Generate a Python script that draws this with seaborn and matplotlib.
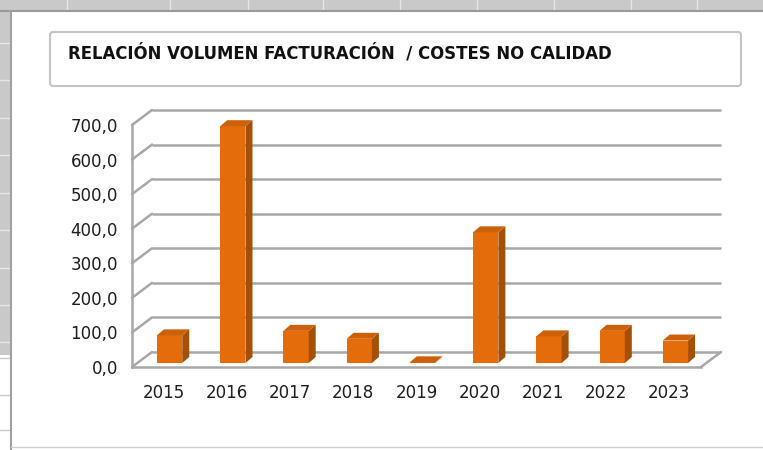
import matplotlib
matplotlib.use("Agg")
import numpy as np
import pandas as pd
import seaborn as sns
import matplotlib.pyplot as plt
from matplotlib.patches import Polygon, FancyBboxPatch, Rectangle
from matplotlib.transforms import ScaledTranslation
from matplotlib.ticker import FuncFormatter, FixedLocator

# ---- data ----
years = ["2015", "2016", "2017", "2018", "2019", "2020", "2021", "2022", "2023"]
values = [80, 685, 93, 70, 2, 378, 77, 93, 65]
y_ticks = [0, 100, 200, 300, 400, 500, 600, 700]
title = "RELACIÓN VOLUMEN FACTURACIÓN  / COSTES NO CALIDAD"

W, H = 763, 450
DPI = 100
FRONT = "#E46C0A"
SIDE = "#A64F07"
TOP = "#CD610A"
GRID = "#A8A8A8"
TXT = "#1e1e1e"

sns.set_style("white")
plt.rcParams["font.family"] = ["DejaVu Sans"]

fig = plt.figure(figsize=(W / DPI, H / DPI), dpi=DPI)
fig.patch.set_facecolor("white")

# ---- background (spreadsheet frame) in pixel coords ----
bg = fig.add_axes([0, 0, 1, 1], zorder=0)
bg.set_xlim(0, W)
bg.set_ylim(H, 0)
bg.axis("off")
bg.add_patch(Rectangle((0, 0), W, 11, facecolor="#c9c9c9", edgecolor="none"))
bg.add_patch(Rectangle((0, 0), 10, 355, facecolor="#c9c9c9", edgecolor="none"))
for x in [67, 170, 248, 323, 400, 477, 554, 631, 697]:
    bg.plot([x, x], [0, 10], color="#e6e6e6", lw=1)
for y in [43, 80, 118, 155, 193, 230, 268, 305, 342]:
    bg.plot([0, 9], [y, y], color="#e6e6e6", lw=1)
for y in [358, 395, 430]:
    bg.plot([0, 9], [y, y], color="#c9c9c9", lw=1)
bg.plot([0, W], [11, 11], color="#9a9a9a", lw=1.5)
bg.plot([10.5, 10.5], [11, H], color="#a0a0a0", lw=1.5)
bg.plot([11, W], [447, 447], color="#d0d0d0", lw=1)

# title box
bg.add_patch(FancyBboxPatch((50, 32), 691, 54,
                            boxstyle="round,pad=0,rounding_size=3",
                            facecolor="white", edgecolor="#c4c4c4", lw=1.5))
bg.text(68, 53, title, fontsize=11.9, fontweight="bold",
        color="#111111", ha="left", va="center")

# ---- main axes ----
ax = fig.add_axes([132 / W, (H - 367) / H, 569 / W, 242 / H], zorder=1)
ax.patch.set_alpha(0)

df = pd.DataFrame({"year": years, "value": values})
sns.barplot(data=df, x="year", y="value", color=FRONT, saturation=1,
            width=0.4, ax=ax, zorder=5)
ax.set_xlim(-0.5, 8.5)
ax.set_ylim(0, 700)
ax.set_xlabel("")
ax.set_ylabel("")

# pixel -> data conversion
px_x = 9 / 569.0
px_y = 700 / 242.0

# back wall offset
wall_dx, wall_dy = 20, 15
wall_off = ax.transData + ScaledTranslation(wall_dx / DPI, wall_dy / DPI, fig.dpi_scale_trans)
for v in y_ticks:
    ax.plot([-0.5, 8.5], [v, v], color=GRID, lw=1.8, transform=wall_off,
            clip_on=False, zorder=1, solid_capstyle="butt")
    ax.plot([-0.5, -0.5 + wall_dx * px_x], [v, v + wall_dy * px_y], color=GRID,
            lw=1.8, clip_on=False, zorder=1)
ax.plot([8.5, 8.5 + wall_dx * px_x], [0, wall_dy * px_y], color=GRID, lw=1.8,
        clip_on=False, zorder=1)

# 3D bars: shift front faces to mid depth, add side and top faces
bar_off = ax.transData + ScaledTranslation(6 / DPI, 4 / DPI, fig.dpi_scale_trans)
ddx, ddy = 7 * px_x, 6 * px_y
for p in list(ax.patches):
    p.set_transform(bar_off)
    p.set_clip_on(False)
    p.set_edgecolor("none")
    x0, y0 = p.get_x(), p.get_y()
    x1, y1 = x0 + p.get_width(), y0 + p.get_height()
    side = Polygon([(x1, y0), (x1 + ddx, y0 + ddy), (x1 + ddx, y1 + ddy), (x1, y1)],
                   closed=True, facecolor=SIDE, edgecolor="none",
                   transform=bar_off, clip_on=False, zorder=5)
    top = Polygon([(x0, y1), (x1, y1), (x1 + ddx, y1 + ddy), (x0 + ddx, y1 + ddy)],
                  closed=True, facecolor=TOP, edgecolor="none",
                  transform=bar_off, clip_on=False, zorder=5)
    ax.add_patch(side)
    ax.add_patch(top)

# spines / ticks
for s in ["top", "right"]:
    ax.spines[s].set_visible(False)
for s in ["left", "bottom"]:
    ax.spines[s].set_color(GRID)
    ax.spines[s].set_linewidth(1.8)
    ax.spines[s].set_zorder(2)

ax.set_yticks(y_ticks)
ax.yaxis.set_major_formatter(FuncFormatter(lambda v, pos: f"{v:.1f}".replace(".", ",")))
ax.tick_params(axis="y", length=3, width=1.5, color=GRID, pad=7,
               labelsize=12, labelcolor=TXT)
ax.xaxis.set_minor_locator(FixedLocator(np.arange(-0.5, 9.0, 1.0)))
ax.tick_params(axis="x", which="major", length=0, pad=12, labelsize=12, labelcolor=TXT)
ax.tick_params(axis="x", which="minor", length=5, width=1.5, color=GRID)
ax.grid(False)

fig.savefig("out.png", dpi=DPI)
